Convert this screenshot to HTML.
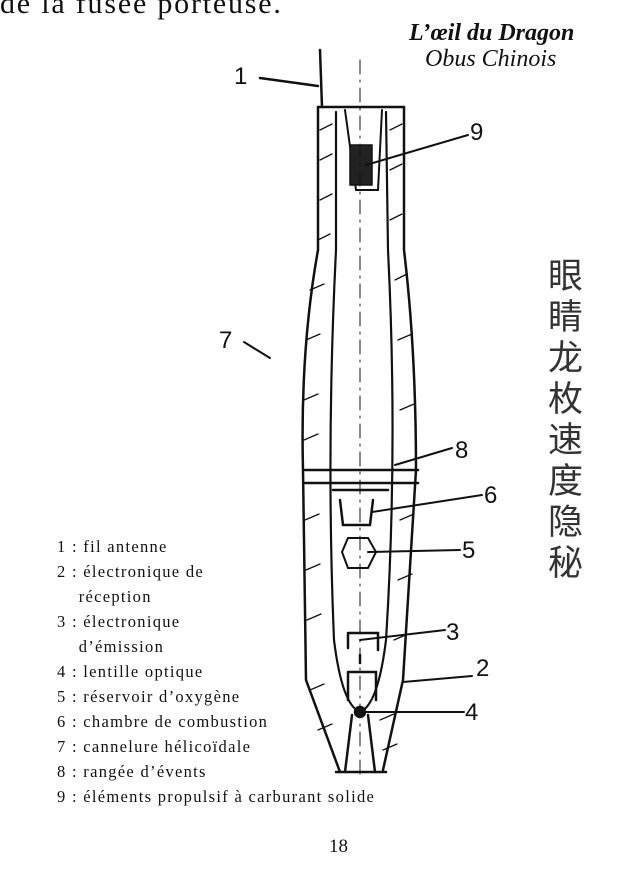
<!DOCTYPE html>
<html><head><meta charset="utf-8"><style>
html,body{margin:0;padding:0;background:#fff}
body{width:640px;height:877px;position:relative;overflow:hidden;font-family:"Liberation Serif",serif;color:#111}
.a{position:absolute;white-space:nowrap}
.leg{position:absolute;left:57px;font-size:16.5px;letter-spacing:1.3px;line-height:25px;top:534px}
</style></head><body>
<div class="a" style="left:0;top:-13px;font-size:30px;letter-spacing:1.8px">de la fusée porteuse.</div>
<div class="a" style="left:409px;top:20px;font-size:24px;font-weight:bold;font-style:italic">L’œil du Dragon</div>
<div class="a" style="left:425px;top:46px;font-size:24px;font-style:italic">Obus Chinois</div>
<div class="a" style="left:548px;top:256px;font-size:35px;line-height:41px;width:40px;white-space:normal;font-family:'Liberation Sans','Noto Sans CJK SC',sans-serif;color:#333">眼睛龙枚速度隐秘</div>
<div class="leg">1 : fil antenne<br>2 : électronique de<br>&nbsp;&nbsp;&nbsp;&nbsp;réception<br>3 : électronique<br>&nbsp;&nbsp;&nbsp;&nbsp;d’émission<br>4 : lentille optique<br>5 : réservoir d’oxygène<br>6 : chambre de combustion<br>7 : cannelure hélicoïdale<br>8 : rangée d’évents<br>9 : éléments propulsif à carburant solide</div>
<div class="a" style="left:329px;top:836px;font-size:19px">18</div>
<svg class="a" style="left:0;top:0" width="640" height="877" fill="none" stroke="#111" stroke-width="2.5" stroke-linecap="round">
<path d="M320 50 L322 107"/>
<path d="M260 78 L318 86"/>
<path d="M318 107 H404"/>
<path d="M318 107 L318 250 Q300 350 303 470 L306 680 L340 772"/>
<path d="M404 107 L404 250 Q416 350 416 470 L403 680 L383 770"/>
<path d="M336 772 H386"/>
<path d="M336 112 L336 250 Q326 450 334 640 Q342 705 360 712 Q378 705 386 640 Q398 450 388 250 L386 112" stroke-width="2.2"/>
<path d="M345 110 L356 190 H378 L382 110" stroke-width="2"/>
<rect x="350" y="145" width="22" height="40" fill="#222" stroke-width="1.5"/>
<path d="M305 470 H418 M305 483 H418" />
<path d="M333 490 H388 M340 500 L343 525 H370 L373 500"/>
<polygon points="348,538 368,538 376,552 368,568 348,568 342,552" stroke-width="2"/>
<path d="M348 633 V648 M348 633 H378 V650 M360 655 V663 M348 672 H376 V700 M348 672 V700"/>
<circle cx="360" cy="712" r="5" fill="#111"/>
<path d="M352 715 L345 772 M368 715 L375 772"/>
<path d="M360 60 V780" stroke-width="1" stroke-dasharray="14 6 2 6"/>
<path d="M366 165 L468 135 M395 465 L452 448 M372 512 L482 495 M368 552 L460 550 M360 640 L445 630 M403 682 L472 676 M365 712 L464 712 M244 342 L270 358" stroke-width="2"/>
<g stroke-width="1.3"><path d="M320 130l12-6M320 160l12-6M320 200l12-6M318 240l12-6M310 290l14-6M306 340l14-6M304 400l14-6M304 440l14-6M305 520l14-6M306 570l14-6M307 620l14-6M310 690l14-6M318 730l14-6M390 130l12-6M390 170l12-6M390 220l12-6M395 280l12-6M398 340l14-6M400 410l14-6M400 520l14-6M398 580l14-6M394 640l14-6M380 720l14-6M383 750l14-6"/></g>
<g font-family="Liberation Sans,sans-serif" font-size="24" fill="#111" stroke="none">
<text x="234" y="84">1</text><text x="470" y="140">9</text><text x="219" y="348">7</text><text x="455" y="458">8</text><text x="484" y="503">6</text><text x="462" y="558">5</text><text x="446" y="640">3</text><text x="476" y="676">2</text><text x="465" y="720">4</text>
</g>
</svg>
</body></html>
